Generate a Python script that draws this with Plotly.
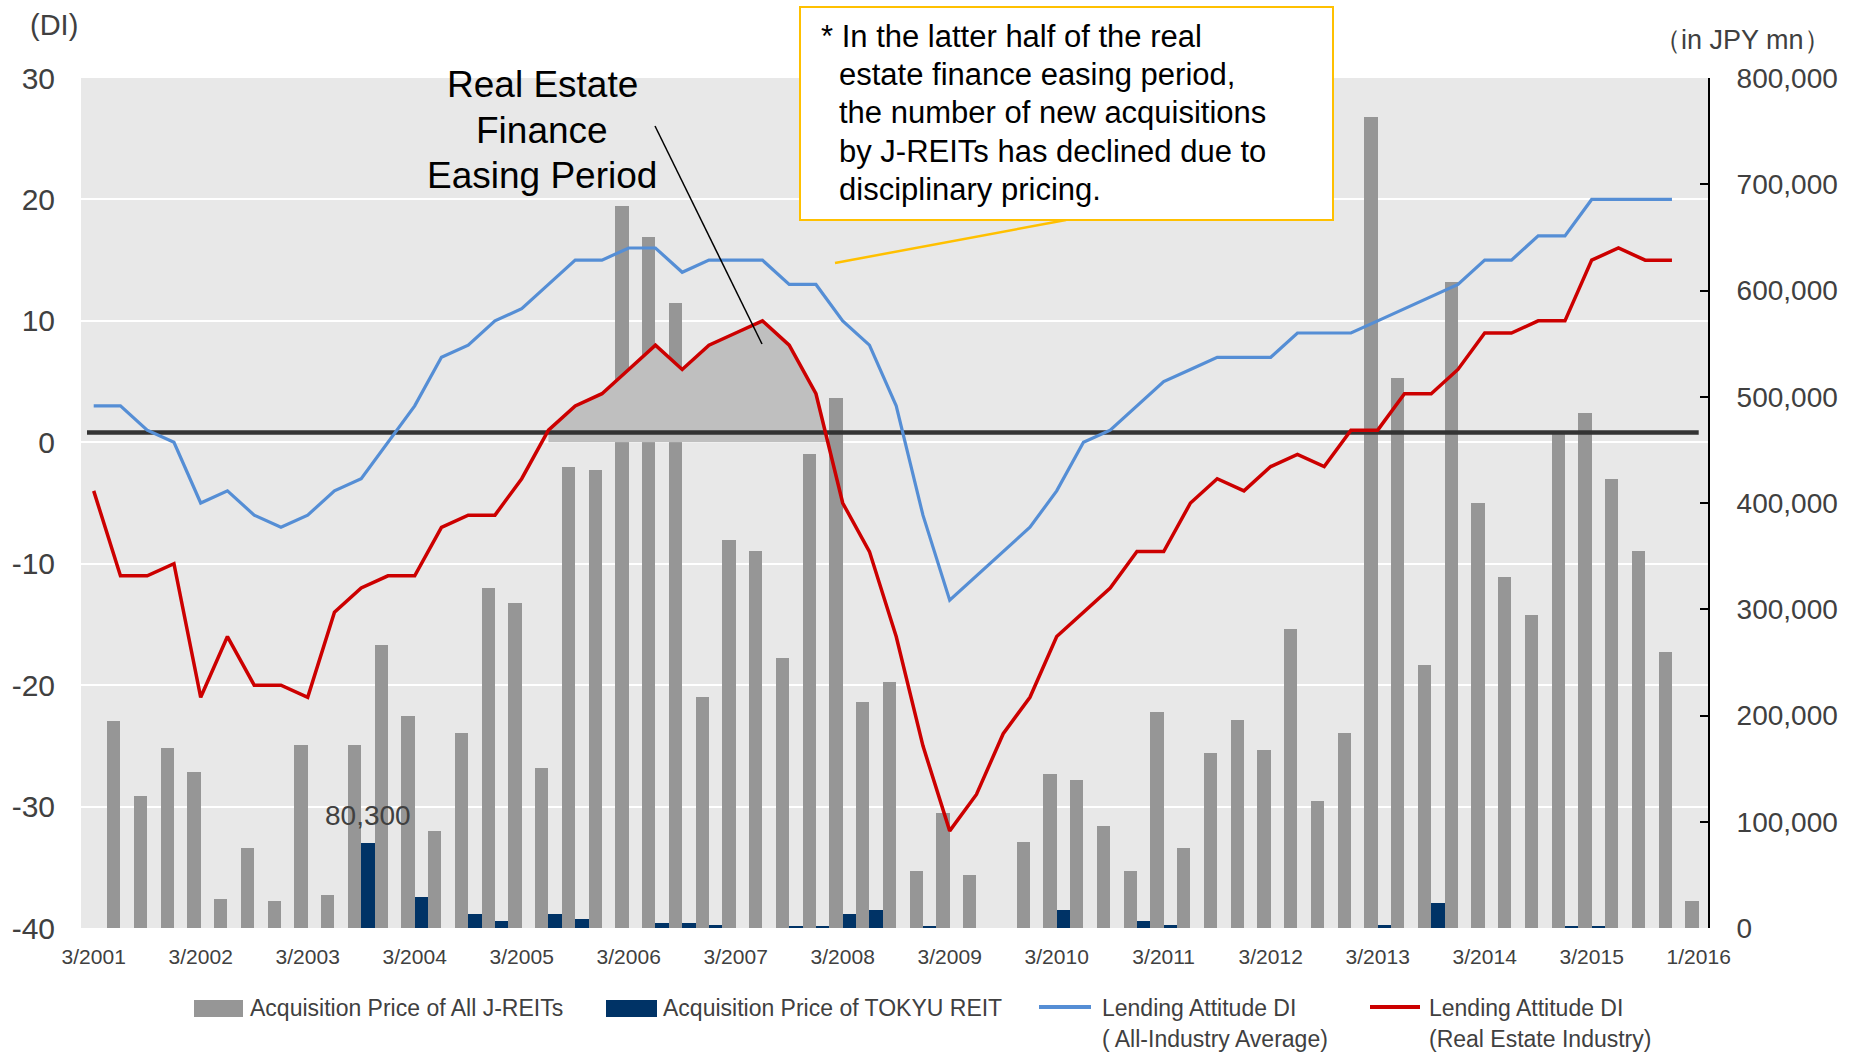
import plotly.graph_objects as go

# ---------------- data ----------------
TICK_LABELS = ["3/2001", "3/2002", "3/2003", "3/2004", "3/2005", "3/2006", "3/2007", "3/2008",
               "3/2009", "3/2010", "3/2011", "3/2012", "3/2013", "3/2014", "3/2015", "1/2016"]
TICK_QUARTER_INDEX = [0, 4, 8, 12, 16, 20, 24, 28, 32, 36, 40, 44, 48, 52, 56, 60]
DI_TICK_VALUES = [-40, -30, -20, -10, 0, 10, 20, 30]
DI_TICK_LABELS = ["-40", "-30", "-20", "-10", "0", "10", "20", "30"]

# Lending Attitude DI (All-Industry Average), quarterly 3/2001 .. 12/2015
DI_ALL_INDUSTRY = [3, 3, 1, 0, -5, -4, -6, -7, -6, -4, -3, 0, 3, 7, 8, 10, 11, 13, 15, 15,
                   16, 16, 14, 15, 15, 15, 13, 13, 10, 8, 3, -6, -13, -11, -9, -7, -4, 0, 1, 3,
                   5, 6, 7, 7, 7, 9, 9, 9, 10, 11, 12, 13, 15, 15, 17, 17, 20, 20, 20, 20]
# Lending Attitude DI (Real Estate Industry)
DI_REAL_ESTATE = [-4, -11, -11, -10, -21, -16, -20, -20, -21, -14, -12, -11, -11, -7, -6, -6, -3, 1, 3, 4,
                  6, 8, 6, 8, 9, 10, 8, 4, -5, -9, -16, -25, -32, -29, -24, -21, -16, -14, -12, -9,
                  -9, -5, -3, -4, -2, -1, -2, 1, 1, 4, 4, 6, 9, 9, 10, 10, 15, 16, 15, 15]
# Acquisition price (JPY mn), bars
ACQ_ALL_JREITS = [195000, 124000, 169000, 147000, 27000, 75000, 25000, 172000, 31000, 172000,
                  266000, 200000, 91000, 184000, 320000, 306000, 151000, 434000, 431000, 680000,
                  650000, 588000, 217000, 365000, 355000, 254000, 446000, 499000, 213000, 232000,
                  54000, 108000, 50000, 0, 81000, 145000, 139000, 96000, 54000, 203000,
                  75000, 165000, 196000, 168000, 281000, 120000, 184000, 763000, 518000, 248000,
                  608000, 400000, 330000, 295000, 465000, 485000, 423000, 355000, 260000, 25000]
ACQ_TOKYU_REIT = [0, 0, 0, 0, 0, 0, 0, 0, 0, 80300,
                  0, 29500, 0, 12900, 6900, 0, 12900, 8800, 0, 0,
                  4700, 4700, 2800, 0, 0, 1000, 1000, 12900, 17000, 0,
                  1000, 0, 0, 0, 0, 17000, 0, 0, 6600, 2800,
                  0, 0, 0, 0, 0, 0, 0, 2800, 0, 23600,
                  0, 0, 0, 0, 1000, 1000, 0, 0, 0, 0]
LABELED_BAR_INDEX = 9
REFERENCE_DI = 0.8
EASING_START, EASING_END = 17, 27

LINE_X = list(range(len(DI_ALL_INDUSTRY)))
BAR_X = [i + 1 for i in range(len(ACQ_ALL_JREITS))]

# ---------------- styles / layout helpers ----------------
FONT = "Liberation Sans, Arial, sans-serif"
TXT = "#404040"
BLUE = "#558ED5"
RED = "#CC0000"
GRAY_BAR = "#969696"
NAVY = "#003366"
W, H = 1856, 1053
ML, MR, MT, MB = 81, 148, 78, 125
PW, PH = W - ML - MR, H - MT - MB
DI_MIN, DI_MAX = -40, 30
Y_MAX = 800000


def px(x):
    return (x - ML) / PW


def py(y):
    return (H - MB - y) / PH


def di_to_bar(d):
    return (d - DI_MIN) / (DI_MAX - DI_MIN) * Y_MAX


fig = go.Figure()

# easing period shaded area (drawn on bar axis so it sits behind the bars)
seg = DI_REAL_ESTATE[EASING_START:EASING_END + 1]
a, b = DI_REAL_ESTATE[EASING_END], DI_REAL_ESTATE[EASING_END + 1]
cross = EASING_END + a / (a - b)
area_x = [EASING_START] + LINE_X[EASING_START:EASING_END + 1] + [cross, EASING_START]
area_y = [0] + seg + [0, 0]
fig.add_trace(go.Scatter(x=area_x, y=[di_to_bar(v) for v in area_y], yaxis="y",
                         mode="lines", line=dict(width=0), fill="toself",
                         fillcolor="#BFBFBF", hoverinfo="skip", showlegend=False))

fig.add_trace(go.Bar(x=BAR_X, y=ACQ_ALL_JREITS, yaxis="y", marker_color=GRAY_BAR,
                     marker_line_width=0, width=0.5, offset=-0.5,
                     name="Acquisition Price of All J-REITs", showlegend=False))
fig.add_trace(go.Bar(x=BAR_X, y=ACQ_TOKYU_REIT, yaxis="y", marker_color=NAVY,
                     marker_line_width=0, width=0.5, offset=0,
                     name="Acquisition Price of TOKYU REIT", showlegend=False))

fig.add_trace(go.Scatter(x=[-0.25, LINE_X[-1] + 1], y=[REFERENCE_DI, REFERENCE_DI], yaxis="y2",
                         mode="lines", line=dict(color="#333333", width=4.5),
                         hoverinfo="skip", showlegend=False))
fig.add_trace(go.Scatter(x=LINE_X, y=DI_ALL_INDUSTRY, yaxis="y2", mode="lines",
                         line=dict(color=BLUE, width=3.2),
                         name="Lending Attitude DI (All-Industry Average)", showlegend=False))
fig.add_trace(go.Scatter(x=LINE_X, y=DI_REAL_ESTATE, yaxis="y2", mode="lines",
                         line=dict(color=RED, width=3.5),
                         name="Lending Attitude DI (Real Estate Industry)", showlegend=False))

annotations = []
shapes = []

# value label above TOKYU bar
annotations.append(dict(x=BAR_X[LABELED_BAR_INDEX] + 0.25, y=ACQ_TOKYU_REIT[LABELED_BAR_INDEX],
                        xref="x", yref="y", text=f"{ACQ_TOKYU_REIT[LABELED_BAR_INDEX]:,}",
                        showarrow=False, yanchor="bottom", yshift=10,
                        font=dict(size=28, color=TXT, family=FONT)))

# axis unit labels
annotations.append(dict(x=px(28), y=py(25), xref="paper", yref="paper", text="(DI)",
                        xanchor="left", yanchor="middle", showarrow=False,
                        font=dict(size=29, color=TXT, family=FONT)))
annotations.append(dict(x=px(1652), y=py(40), xref="paper", yref="paper", text="（in JPY mn）",
                        xanchor="left", yanchor="middle", showarrow=False,
                        font=dict(size=27, color=TXT, family=FONT)))

# Real Estate Finance Easing Period
for txt, yy in [("Real Estate", 85), ("Finance", 130), ("Easing Period", 175)]:
    annotations.append(dict(x=px(542), y=py(yy), xref="paper", yref="paper", text=txt,
                            xanchor="center", yanchor="middle", showarrow=False,
                            font=dict(size=37, color="black", family=FONT)))
shapes.append(dict(type="line", xref="paper", yref="paper", x0=px(655), y0=py(126),
                   x1=px(762), y1=py(344), line=dict(color="black", width=1.5)))

# callout
shapes.append(dict(type="line", xref="paper", yref="paper", x0=px(835), y0=py(263),
                   x1=px(1066), y1=py(220), line=dict(color="#FFC000", width=2.5)))
shapes.append(dict(type="rect", xref="paper", yref="paper", x0=px(800), y0=py(7),
                   x1=px(1333), y1=py(220), line=dict(color="#FFC000", width=2),
                   fillcolor="white"))
callout = [("* In the latter half of the real", 819, 36),
           ("estate finance easing period,", 837, 74.3),
           ("the number of new acquisitions", 837, 112.6),
           ("by J-REITs has declined due to", 837, 151),
           ("disciplinary pricing.", 837, 189.3)]
for txt, xx, yy in callout:
    annotations.append(dict(x=px(xx), y=py(yy), xref="paper", yref="paper", text=txt,
                            xanchor="left", yanchor="middle", showarrow=False,
                            font=dict(size=31, color="black", family=FONT)))

# manual legend
shapes.append(dict(type="rect", xref="paper", yref="paper", x0=px(194), y0=py(1000),
                   x1=px(243), y1=py(1017), line=dict(width=0), fillcolor=GRAY_BAR))
shapes.append(dict(type="rect", xref="paper", yref="paper", x0=px(606), y0=py(1000),
                   x1=px(657), y1=py(1017), line=dict(width=0), fillcolor=NAVY))
shapes.append(dict(type="line", xref="paper", yref="paper", x0=px(1039), y0=py(1007),
                   x1=px(1091), y1=py(1007), line=dict(color=BLUE, width=4)))
shapes.append(dict(type="line", xref="paper", yref="paper", x0=px(1370), y0=py(1007),
                   x1=px(1420), y1=py(1007), line=dict(color=RED, width=4)))
legend_txt = [("Acquisition Price of All J-REITs", 248, 1008),
              ("Acquisition Price of TOKYU REIT", 661, 1008),
              ("Lending Attitude DI", 1100, 1008),
              ("( All-Industry Average)", 1100, 1039),
              ("Lending Attitude DI", 1427, 1008),
              ("(Real Estate Industry)", 1427, 1039)]
for txt, xx, yy in legend_txt:
    annotations.append(dict(x=px(xx), y=py(yy), xref="paper", yref="paper", text=txt,
                            xanchor="left", yanchor="middle", showarrow=False,
                            font=dict(size=23, color=TXT, family=FONT)))

x0 = -(93.7 - ML) / 26.75
x1 = x0 + PW / 26.75

fig.update_layout(
    width=W, height=H,
    margin=dict(l=ML, r=MR, t=MT, b=MB),
    paper_bgcolor="white", plot_bgcolor="#E8E8E8",
    barmode="overlay", bargap=0,
    font=dict(family=FONT, color=TXT),
    showlegend=False,
    xaxis=dict(range=[x0, x1], tickmode="array", tickvals=TICK_QUARTER_INDEX,
               ticktext=TICK_LABELS, tickfont=dict(size=21, color=TXT),
               showgrid=False, zeroline=False, showline=False, ticks="",
               ticklabelstandoff=14),
    yaxis=dict(side="right", range=[0, Y_MAX], tickmode="linear", tick0=0, dtick=100000,
               tickformat=",", ticks="inside", ticklen=8, tickwidth=2, tickcolor="black",
               showline=True, linecolor="black", linewidth=2, showgrid=False,
               zeroline=False, tickfont=dict(size=28, color=TXT), ticklabelstandoff=21),
    yaxis2=dict(overlaying="y", side="left", range=[DI_MIN, DI_MAX], tickmode="array",
                tickvals=DI_TICK_VALUES, ticktext=DI_TICK_LABELS,
                showgrid=True, gridcolor="white", gridwidth=2,
                zeroline=False, showline=False, ticks="",
                tickfont=dict(size=30, color=TXT), ticklabelstandoff=25),
    annotations=annotations,
    shapes=shapes,
)

fig.write_html("out.html", config={"displayModeBar": False},
               post_script="document.body.style.margin='0';document.body.style.overflow='hidden';")
